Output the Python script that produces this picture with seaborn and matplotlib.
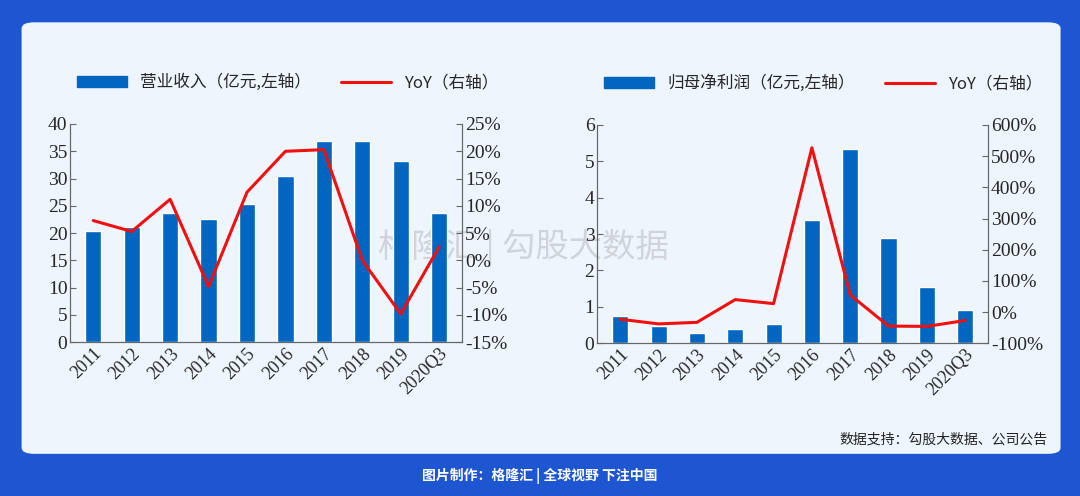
import matplotlib.pyplot as plt
import seaborn as sns
import pandas as pd
from matplotlib.patches import FancyBboxPatch
from matplotlib.lines import Line2D
from matplotlib.patches import Patch

years = ["2011", "2012", "2013", "2014", "2015", "2016", "2017", "2018", "2019", "2020Q3"]
revenue = [20.3, 21.2, 23.7, 22.6, 25.4, 30.4, 36.8, 36.8, 33.2, 23.6]
revenue_yoy = [7.3, 5.3, 11.2, -4.8, 12.5, 20.0, 20.3, 0.0, -9.8, 2.5]
profit = [0.75, 0.48, 0.28, 0.40, 0.52, 3.40, 5.35, 2.90, 1.55, 0.90]
profit_yoy = [-23, -38, -33, 40, 27, 527, 55, -45, -46, -27]

sns.set_style("white")
cjk = ["Noto Sans CJK SC", "DejaVu Sans"]
serif = ["Liberation Serif", "DejaVu Serif"]
BLUE = "#0066BF"
RED = "#F01010"

fig = plt.figure(figsize=(10.8, 4.96), dpi=100)
fig.patch.set_facecolor("#1E56D2")
bg = fig.add_axes([0, 0, 1, 1], zorder=-5)
bg.set_axis_off()
bg.set_xlim(0, 1)
bg.set_ylim(0, 1)
bg.add_patch(FancyBboxPatch((0.02, 0.085), 0.962, 0.87, boxstyle="round,pad=0,rounding_size=0.012",
                            facecolor="#EEF5FD", edgecolor="none"))
bg.text(0.35, 0.5, "格隆汇 | 勾股大数据", family=cjk, fontsize=24, color="#999999", alpha=0.35,
        ha="left", va="center")


def draw(rect, bars, yoy, ylim, yticks, y2lim, y2ticks, label):
    ax = fig.add_axes(rect, zorder=2)
    ax.set_facecolor("none")
    df = pd.DataFrame({"year": years, "v": bars})
    sns.barplot(data=df, x="year", y="v", color=BLUE, width=0.42, ax=ax, saturation=1)
    ax.set_ylim(*ylim)
    ax.set_yticks(yticks)
    ax.set_xlabel("")
    ax.set_ylabel("")
    ax2 = ax.twinx()
    sns.lineplot(x=list(range(len(years))), y=yoy, color=RED, lw=2.2, ax=ax2)
    ax2.set_ylim(*y2lim)
    ax2.set_yticks(y2ticks)
    ax2.set_yticklabels([f"{t}%" for t in y2ticks])
    ax.set_xlim(-0.6, len(years) - 0.4)
    for a in (ax, ax2):
        for s in a.spines.values():
            s.set_color("#666666")
        a.spines["top"].set_visible(False)
        a.tick_params(direction="in", length=4, color="#666666", labelsize=14, pad=2)
        for t in a.get_yticklabels():
            t.set_family(serif)
    ax.set_xticks([i + 0.5 for i in range(len(years))], minor=True)
    ax.tick_params(axis="x", which="major", length=0)
    ax.tick_params(axis="x", which="minor", direction="in", length=4, color="#666666")
    ax.set_xticklabels(years, rotation=45, ha="right", rotation_mode="anchor", family=serif, fontsize=13)
    handles = [Patch(color=BLUE), Line2D([], [], color=RED, lw=2.2)]
    ax.legend(handles, [label, "YoY（右轴）"], loc="lower left", bbox_to_anchor=(0.0, 1.12),
              ncol=2, frameon=False, prop={"family": cjk, "size": 12}, columnspacing=1.8,
              handlelength=3, handleheight=0.6, borderaxespad=0)
    return ax


draw([0.065, 0.31, 0.363, 0.44], revenue, revenue_yoy, (0, 40), range(0, 41, 5),
     (-15, 25), list(range(-15, 26, 5)), "营业收入（亿元,左轴）")
draw([0.553, 0.308, 0.362, 0.44], profit, profit_yoy, (0, 6), range(0, 7),
     (-100, 600), list(range(-100, 601, 100)), "归母净利润（亿元,左轴）")

fig.text(0.97, 0.1, "数据支持：勾股大数据、公司公告", family=cjk, fontsize=10, ha="right", va="bottom", color="#222222")
fig.text(0.5, 0.04, "图片制作：格隆汇 | 全球视野 下注中国", family=cjk, fontsize=10, ha="center",
         va="center", color="white", weight="bold")

fig.savefig("out.png", dpi=100, facecolor=fig.get_facecolor())
